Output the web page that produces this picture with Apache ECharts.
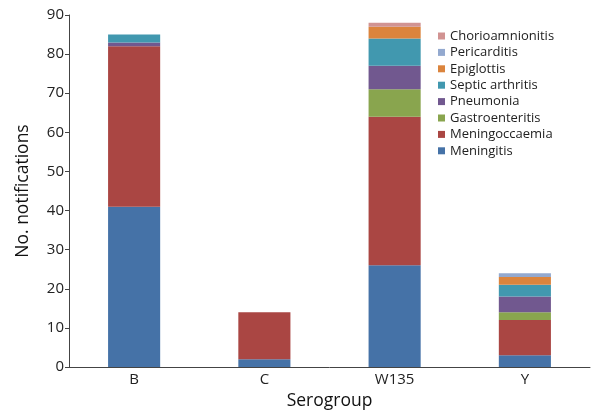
<!DOCTYPE html>
<html>
<head>
<meta charset="utf-8">
<script src="https://cdn.jsdelivr.net/npm/echarts@6/dist/echarts.min.js"></script>
<style>
  html, body { margin: 0; padding: 0; background: #fff; }
  #chart { width: 600px; height: 410px; }
</style>
</head>
<body>
<div id="chart"></div>
<script>
// data
const categories = ["B", "C", "W135", "Y"];
const meningitis = [41, 2, 26, 3];
const meningoccaemia = [41, 12, 38, 9];
const gastroenteritis = [0, 0, 7, 2];
const pneumonia = [1, 0, 6, 4];
const septicArthritis = [2, 0, 7, 3];
const epiglottis = [0, 0, 3, 2];
const pericarditis = [0, 0, 0, 1];
const chorioamnionitis = [0, 0, 1, 0];
const yTicks = [0, 10, 20, 30, 40, 50, 60, 70, 80, 90];

const seriesDefs = [
  { name: "Meningitis", data: meningitis, color: "#4572a7" },
  { name: "Meningoccaemia", data: meningoccaemia, color: "#aa4643" },
  { name: "Gastroenteritis", data: gastroenteritis, color: "#89a54e" },
  { name: "Pneumonia", data: pneumonia, color: "#71588f" },
  { name: "Septic arthritis", data: septicArthritis, color: "#4198af" },
  { name: "Epiglottis", data: epiglottis, color: "#db843d" },
  { name: "Pericarditis", data: pericarditis, color: "#93a9cf" },
  { name: "Chorioamnionitis", data: chorioamnionitis, color: "#d19392" }
];

const chart = echarts.init(document.getElementById("chart"));
const font = "'Open Sans', 'DejaVu Sans', sans-serif";

chart.setOption({
  animation: false,
  textStyle: { fontFamily: font },
  grid: { left: 69, right: 10, top: 15, bottom: 43, outerBoundsMode: "none" },
  legend: {
    orient: "vertical",
    left: 438,
    top: 29,
    padding: 0,
    itemWidth: 7,
    itemHeight: 7,
    itemGap: 2.4,
    icon: "rect",
    data: seriesDefs.map(s => s.name).reverse(),
    textStyle: { fontSize: 13, lineHeight: 14, color: "#222", fontFamily: font }
  },
  xAxis: {
    type: "category",
    data: categories,
    name: "Serogroup",
    nameLocation: "middle",
    nameGap: 22,
    nameTextStyle: { fontSize: 17.5, color: "#111", fontFamily: font },
    axisLine: { lineStyle: { color: "#444", width: 1 } },
    axisTick: { show: false },
    axisLabel: { fontSize: 15, color: "#222", margin: 5 }
  },
  yAxis: {
    type: "value",
    min: yTicks[0],
    max: yTicks[yTicks.length - 1],
    interval: 10,
    name: "No. notifications",
    nameLocation: "middle",
    nameGap: 37,
    nameTextStyle: { fontSize: 17.5, color: "#111", fontFamily: font },
    axisLine: { show: true, lineStyle: { color: "#444", width: 1 } },
    axisTick: { show: true, length: 4, lineStyle: { color: "#444" } },
    axisLabel: { fontSize: 15, color: "#222", margin: 5 },
    splitLine: { show: false }
  },
  series: seriesDefs.map(s => ({
    name: s.name,
    type: "bar",
    stack: "total",
    barWidth: "40%",
    data: s.data,
    itemStyle: { color: s.color }
  }))
});
</script>
</body>
</html>
